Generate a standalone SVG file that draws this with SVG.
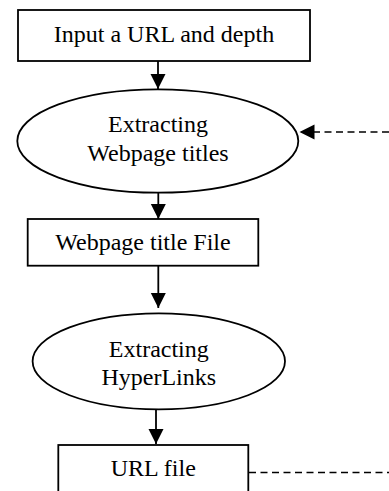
<svg xmlns="http://www.w3.org/2000/svg" width="389" height="491" viewBox="0 0 389 491">
<defs>
<style>
.box{fill:#fff;stroke:#000;stroke-width:1.8}
.ell{fill:#fff;stroke:#000;stroke-width:1.8}
.lbl{font-family:"Liberation Serif","Times New Roman",serif;font-size:24px;fill:#000;text-anchor:middle}
.conn{fill:none;stroke:#000;stroke-width:1.8}
.dash{fill:none;stroke:#000;stroke-width:1.6;stroke-dasharray:7 4.5}
</style>
<marker id="ah" markerUnits="userSpaceOnUse" markerWidth="16" markerHeight="16" viewBox="0 0 15 16" refX="15" refY="8" orient="auto">
<polygon points="0,0.5 15,8 0,15.5" fill="#000"/>
</marker>
</defs>
<rect width="389" height="491" fill="#fff"/>
<g id="connectors">
<line class="conn" x1="158" y1="61" x2="158" y2="89" marker-end="url(#ah)"/>
<line class="conn" x1="158.3" y1="192.7" x2="158.3" y2="219" marker-end="url(#ah)"/>
<line class="conn" x1="158.3" y1="266" x2="158.3" y2="308" marker-end="url(#ah)"/>
<line class="conn" x1="156" y1="401.7" x2="156" y2="444" marker-end="url(#ah)"/>
<line class="dash" x1="389" y1="132" x2="299.5" y2="132" marker-end="url(#ah)"/>
<line class="dash" x1="249" y1="472.5" x2="389" y2="472.5"/>
</g>
<g id="input">
<rect class="box" x="18" y="10" width="292" height="51"/>
<text class="lbl" x="164" y="41.7">Input a URL and depth</text>
</g>
<g id="extract-titles">
<ellipse class="ell" cx="157.8" cy="141" rx="140.5" ry="51.7"/>
<text class="lbl" x="158" y="131.7">Extracting</text>
<text class="lbl" x="158" y="161">Webpage titles</text>
</g>
<g id="title-file">
<rect class="box" x="27.7" y="219" width="230.6" height="46.7"/>
<text class="lbl" x="143" y="250">Webpage title File</text>
</g>
<g id="extract-links">
<ellipse class="ell" cx="158.8" cy="361.3" rx="126.2" ry="48"/>
<text class="lbl" x="158.8" y="356.7">Extracting</text>
<text class="lbl" x="158.8" y="385">HyperLinks</text>
</g>
<g id="url-file">
<rect class="box" x="58.3" y="445" width="190" height="60"/>
<text class="lbl" x="153.3" y="476">URL file</text>
</g>
</svg>
